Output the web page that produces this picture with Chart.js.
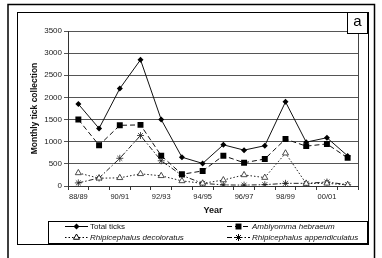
<!DOCTYPE html>
<html>
<head>
<meta charset="utf-8">
<script src="https://cdn.jsdelivr.net/npm/chart.js@4/dist/chart.umd.min.js"></script>
<style>
html, body { margin: 0; padding: 0; background: #fff; }
</style>
</head>
<body>
<canvas id="myChart" width="382" height="258"></canvas>
<script>
// seasons on the x axis (only every other one gets a label)
var years = ['88/89', '89/90', '90/91', '91/92', '92/93', '93/94', '94/95',
             '95/96', '96/97', '97/98', '98/99', '99/00', '00/01', '01/02'];
var totalTicks     = [1850, 1300, 2200, 2850, 1500, 650, 510, 930, 810, 910, 1900, 990, 1090, 680];
var amblyomma      = [1500, 920, 1370, 1380, 685, 265, 340, 685, 525, 610, 1060, 900, 950, 635];
var decoloratus    = [295, 175, 185, 275, 230, 115, 60, 135, 250, 190, 740, 55, 60, 25];
var appendiculatus = [70, 180, 625, 1140, 570, 240, 60, 25, 20, 30, 60, 60, 90, 30];
var yTicks = [0, 500, 1000, 1500, 2000, 2500, 3000, 3500];

var FONT = "'Liberation Sans', Arial, sans-serif";

function drawMarker(ctx, style, x, y, r) {
    ctx.save();
    ctx.setLineDash([]);
    ctx.lineWidth = 1;
    ctx.strokeStyle = '#000';
    ctx.fillStyle = '#000';
    ctx.beginPath();
    if (style === 'rectRot') {
        ctx.moveTo(x, y - r); ctx.lineTo(x + r, y); ctx.lineTo(x, y + r); ctx.lineTo(x - r, y);
        ctx.closePath(); ctx.fill();
    } else if (style === 'rect') {
        var s = r * Math.SQRT1_2;
        ctx.fillRect(x - s, y - s, 2 * s, 2 * s);
    } else if (style === 'triangle') {
        ctx.fillStyle = '#fff';
        ctx.moveTo(x, y - r); ctx.lineTo(x + r * 0.87, y + r * 0.5); ctx.lineTo(x - r * 0.87, y + r * 0.5);
        ctx.closePath(); ctx.fill(); ctx.stroke();
    } else if (style === 'star') {
        for (var i = 0; i < 4; i++) {
            var a = i * Math.PI / 4;
            ctx.moveTo(x - Math.cos(a) * r, y - Math.sin(a) * r);
            ctx.lineTo(x + Math.cos(a) * r, y + Math.sin(a) * r);
        }
        ctx.stroke();
    }
    ctx.restore();
}

// frames, "a" box, plot border and legend
var decorations = {
    id: 'decorations',
    afterDraw: function (chart) {
        var ctx = chart.ctx;
        var area = chart.chartArea;
        ctx.save();
        ctx.strokeStyle = '#000';

        // outer frame (open at bottom)
        ctx.lineWidth = 1.5;
        ctx.beginPath();
        ctx.moveTo(8, 258); ctx.lineTo(8, 4.5); ctx.lineTo(374.5, 4.5); ctx.lineTo(374.5, 258);
        ctx.stroke();

        // inner frame
        ctx.lineWidth = 1;
        ctx.strokeRect(17.5, 12.5, 351, 232);

        // plot area right edge
        ctx.strokeStyle = '#444';
        ctx.beginPath();
        ctx.moveTo(Math.round(area.right) + 0.5, area.top);
        ctx.lineTo(Math.round(area.right) + 0.5, area.bottom);
        ctx.stroke();

        // panel label
        ctx.strokeStyle = '#000';
        ctx.fillStyle = '#fff';
        ctx.fillRect(347.5, 12.5, 20, 21);
        ctx.strokeRect(347.5, 12.5, 20, 21);
        ctx.fillStyle = '#000';
        ctx.font = '15px ' + FONT;
        ctx.textAlign = 'center';
        ctx.textBaseline = 'middle';
        ctx.fillText('a', 357.5, 22);

        // legend box
        ctx.fillStyle = '#fff';
        ctx.fillRect(48.5, 221.5, 319, 22);
        ctx.strokeRect(48.5, 221.5, 319, 22);
        ctx.lineWidth = 2;
        ctx.beginPath();
        ctx.moveTo(48, 244); ctx.lineTo(368, 244);
        ctx.stroke();

        var slots = [[65, 226], [227, 226], [65, 237], [227, 237]];
        chart.data.datasets.forEach(function (ds, i) {
            var x = slots[i][0], y = slots[i][1];
            ctx.save();
            ctx.lineWidth = 1;
            ctx.strokeStyle = '#000';
            ctx.setLineDash(ds.borderDash || []);
            ctx.beginPath();
            ctx.moveTo(x, y + 0.5); ctx.lineTo(x + 23, y + 0.5);
            ctx.stroke();
            ctx.restore();
            drawMarker(ctx, ds.pointStyle, x + 11.5, y + 0.5, ds.pointRadius);
            ctx.fillStyle = '#111';
            ctx.textAlign = 'left';
            ctx.textBaseline = 'middle';
            ctx.font = (i === 0 ? '' : 'italic ') + '8px ' + FONT;
            ctx.fillText(ds.label, x + 25, y + 1);
        });
        ctx.restore();
    }
};

var ctx = document.getElementById('myChart').getContext('2d');
var myChart = new Chart(ctx, {
    type: 'line',
    data: {
        labels: years,
        datasets: [{
            label: 'Total ticks',
            data: totalTicks,
            borderColor: '#111',
            borderWidth: 1,
            pointStyle: 'rectRot',
            pointRadius: 3,
            pointBackgroundColor: '#000',
            pointBorderColor: '#000',
            pointBorderWidth: 0
        },
        {
            label: 'Amblyomma hebraeum',
            data: amblyomma,
            borderColor: '#111',
            borderWidth: 1,
            borderDash: [5, 3],
            pointStyle: 'rect',
            pointRadius: 4.2,
            pointBackgroundColor: '#000',
            pointBorderColor: '#000',
            pointBorderWidth: 0
        },
        {
            label: 'Rhipicephalus decoloratus',
            data: decoloratus,
            borderColor: '#222',
            borderWidth: 1,
            borderDash: [1.5, 2],
            pointStyle: 'triangle',
            pointRadius: 3.5,
            pointBackgroundColor: '#fff',
            pointBorderColor: '#222',
            pointBorderWidth: 0.8
        },
        {
            label: 'Rhipicephalus appendiculatus',
            data: appendiculatus,
            borderColor: '#222',
            borderWidth: 1,
            borderDash: [5, 2, 1.5, 2],
            pointStyle: 'star',
            pointRadius: 3.5,
            pointBackgroundColor: '#fff',
            pointBorderColor: '#222',
            pointBorderWidth: 0.8
        }]
    },
    options: {
        responsive: false,
        animation: false,
        layout: { padding: { left: 30, right: 24, top: 31, bottom: 42 } },
        plugins: {
            legend: { display: false },
            tooltip: { enabled: false }
        },
        scales: {
            x: {
                offset: true,
                grid: { offset: true, drawOnChartArea: false, drawTicks: true, tickLength: 4, color: '#333' },
                border: { color: '#333' },
                ticks: {
                    autoSkip: false,
                    maxRotation: 0,
                    padding: 2,
                    color: '#222',
                    font: { family: FONT, size: 7.5 },
                    callback: function (val, idx) { return idx % 2 === 0 ? years[idx] : ''; }
                },
                title: { display: true, text: 'Year', color: '#111', padding: 0,
                         font: { family: FONT, size: 9, weight: 'bold' } },
                afterFit: function (scale) { scale.height = 30; }
            },
            y: {
                min: 0,
                max: 3500,
                afterBuildTicks: function (scale) {
                    scale.ticks = yTicks.map(function (v) { return { value: v }; });
                },
                grid: { color: '#555', tickLength: 4 },
                border: { color: '#333' },
                ticks: {
                    padding: 2,
                    color: '#222',
                    font: { family: FONT, size: 8 },
                    callback: function (val) { return String(val); }
                },
                title: { display: true, text: 'Monthly tick collection', color: '#111', padding: 0,
                         font: { family: FONT, size: 8.5, weight: 'bold' } },
                afterFit: function (scale) { scale.width = 38; }
            }
        }
    },
    plugins: [decorations]
});
</script>
</body>
</html>
